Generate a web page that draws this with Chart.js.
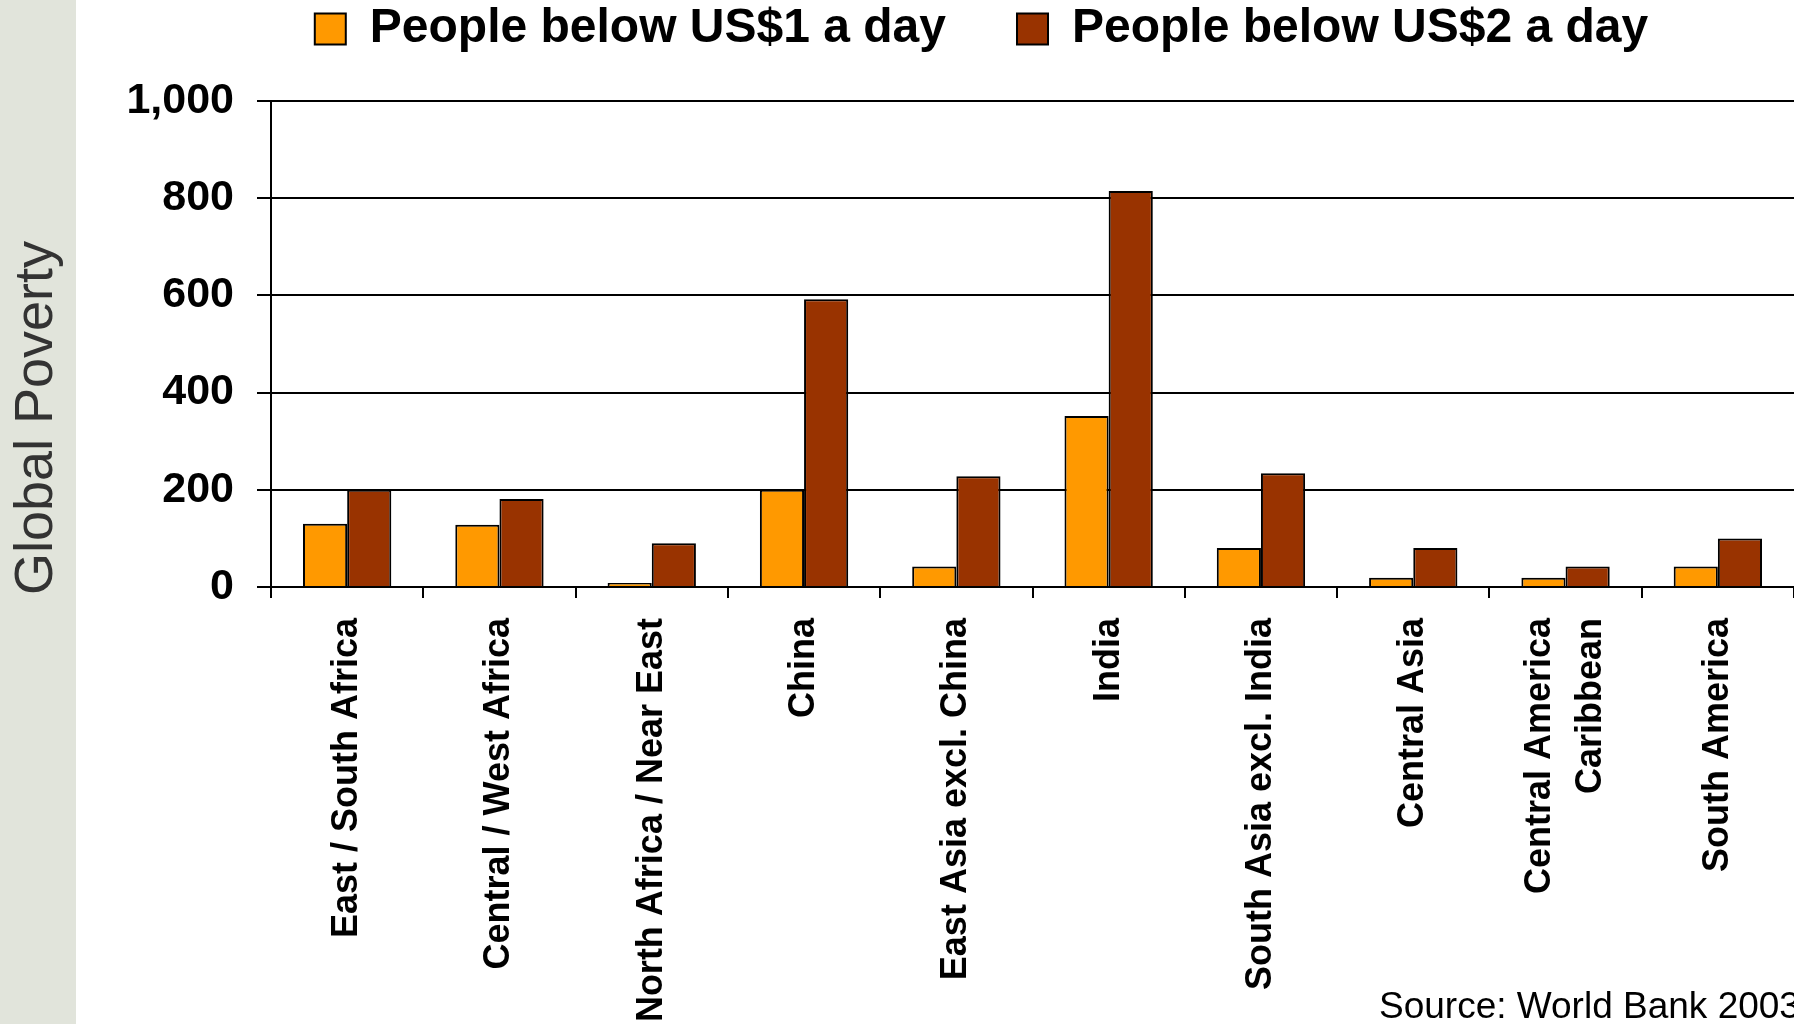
<!DOCTYPE html>
<html>
<head>
<meta charset="utf-8">
<title>Global Poverty</title>
<script src="https://cdn.jsdelivr.net/npm/chart.js@4/dist/chart.umd.min.js"></script>
<style>
  html, body { margin: 0; padding: 0; background: #ffffff; overflow: hidden; }
  canvas { display: block; }
</style>
</head>
<body>
<canvas id="poverty" width="1794" height="1024"></canvas>
<script>
// Regions (x categories)
const regions = [
  'East / South Africa',
  'Central / West Africa',
  'North Africa / Near East',
  'China',
  'East Asia excl. China',
  'India',
  'South Asia excl. India',
  'Central Asia',
  ['Central America', 'Caribbean'],
  'South America'
];

// People living below each poverty line (millions)
const below1Dollar = [130, 128, 8, 200, 42, 352, 80, 19, 19, 42];
const below2Dollar = [200, 181, 90, 592, 228, 815, 234, 80, 42, 100];

const seriesNames = ['People below US$1 a day', 'People below US$2 a day'];
const yTickValues = [0, 200, 400, 600, 800, 1000];
const sideTitle = 'Global Poverty';
const sourceNote = 'Source: World Bank 2003';

const FONT = "'Liberation Sans', Arial, Helvetica, sans-serif";

// Slide decoration: grey side band with the vertical title, and the source line
const slideDecor = {
  id: 'slideDecor',
  beforeDraw(chart) {
    const { ctx } = chart;
    ctx.save();
    ctx.fillStyle = '#ffffff';
    ctx.fillRect(0, 0, chart.width, chart.height);
    ctx.fillStyle = '#E1E4DB';
    ctx.fillRect(0, 0, 76, chart.height);
    ctx.restore();
  },
  afterDraw(chart) {
    const { ctx } = chart;
    ctx.save();
    ctx.fillStyle = '#333333';
    ctx.font = `54px ${FONT}`;
    ctx.textAlign = 'center';
    ctx.textBaseline = 'middle';
    ctx.translate(37, 418);
    ctx.rotate(-Math.PI / 2);
    ctx.fillText(sideTitle, 0, 0);
    ctx.restore();

    ctx.save();
    ctx.fillStyle = '#000000';
    ctx.font = `37px ${FONT}`;
    ctx.textAlign = 'left';
    ctx.textBaseline = 'alphabetic';
    ctx.fillText(sourceNote, 1379, 1018);
    ctx.restore();
  }
};

// Centre two-line rotated category labels on their tick
const centerMultiLineTicks = {
  id: 'centerMultiLineTicks',
  beforeDraw(chart) {
    const items = chart.scales.x.getLabelItems(chart.chartArea);
    items.forEach(item => {
      if (Array.isArray(item.label) && !item.centered) {
        item.options.translation[0] -= (item.label.length - 1) * item.font.lineHeight / 2;
        item.centered = true;
      }
    });
  }
};

new Chart(document.getElementById('poverty'), {
  type: 'bar',
  data: {
    labels: regions,
    datasets: [
      {
        label: seriesNames[0],
        data: below1Dollar,
        backgroundColor: '#FF9900',
        borderColor: '#000000',
        borderWidth: 2,
        categoryPercentage: 0.58,
        barPercentage: 1.0
      },
      {
        label: seriesNames[1],
        data: below2Dollar,
        backgroundColor: '#993300',
        borderColor: '#000000',
        borderWidth: 2,
        categoryPercentage: 0.58,
        barPercentage: 1.0
      }
    ]
  },
  options: {
    responsive: false,
    animation: false,
    devicePixelRatio: 1,
    layout: { padding: { left: 0, right: -169, top: -66, bottom: 0 } },
    plugins: {
      legend: {
        position: 'top',
        labels: {
          color: '#000000',
          font: { family: FONT, size: 48, weight: 'bold' },
          boxWidth: 31,
          boxHeight: 31,
          padding: 71
        }
      },
      tooltip: { enabled: false }
    },
    scales: {
      x: {
        position: 'bottom',
        offset: true,
        grid: {
          offset: true,
          drawOnChartArea: false,
          drawTicks: true,
          tickLength: 11,
          color: '#000000',
          lineWidth: 2
        },
        border: { display: true, color: '#000000', width: 2 },
        ticks: {
          color: '#000000',
          font: { family: FONT, size: 36, weight: 'bold', lineHeight: 1.4 },
          minRotation: 90,
          maxRotation: 90,
          autoSkip: false,
          padding: 20
        },
        afterFit(scale) { scale.height = 437; }
      },
      xTop: {
        type: 'category',
        position: 'top',
        grid: { display: false },
        border: { display: false },
        ticks: { display: false },
        afterFit(scale) { scale.height = 38; }
      },
      y: {
        min: 0,
        max: 1000,
        afterBuildTicks(scale) {
          scale.ticks = yTickValues.map(v => ({ value: v }));
        },
        ticks: {
          color: '#000000',
          font: { family: FONT, size: 43, weight: 'bold' },
          padding: 23
        },
        grid: {
          color: '#000000',
          lineWidth: 2,
          drawTicks: true,
          tickLength: 14
        },
        border: { color: '#000000', width: 2 },
        afterFit(scale) { scale.width = 271; }
      },
      yRight: {
        type: 'linear',
        position: 'right',
        grid: { display: false },
        border: { display: false },
        ticks: { display: false },
        afterFit(scale) { scale.width = 167; }
      }
    }
  },
  plugins: [slideDecor, centerMultiLineTicks]
});
</script>
</body>
</html>
